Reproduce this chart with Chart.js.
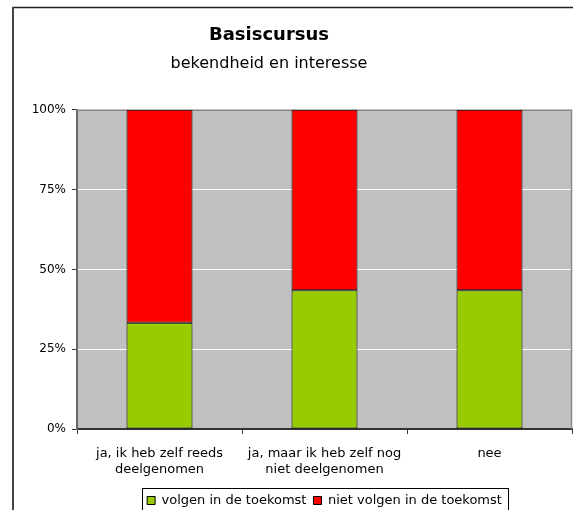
<!DOCTYPE html>
<html><head><meta charset="utf-8">
<script src="https://cdn.jsdelivr.net/npm/chart.js@4/dist/chart.umd.min.js"></script>
<style>html,body{margin:0;padding:0;background:#fff;overflow:hidden}canvas{display:block}</style>
</head><body>
<canvas id="c" width="573" height="517" style="width:573px;height:517px"></canvas>
<script>
const titleText = 'Basiscursus';
const subtitleText = 'bekendheid en interesse';
const categories = [['ja, ik heb zelf reeds', 'deelgenomen'], ['ja, maar ik heb zelf nog', 'niet deelgenomen'], ['nee']];
const seriesNames = ['volgen in de toekomst', 'niet volgen in de toekomst'];
const volgen = [33.3, 43.5, 43.5];
const nietVolgen = [66.7, 56.5, 56.5];
const yTickStep = 25;
const yMax = 100;

const FONT = 'DejaVu Sans';
Chart.defaults.font.family = FONT;
Chart.defaults.color = '#000';

const decor = {
  id: 'decor',
  beforeDraw(chart) {
    const {ctx, chartArea: a} = chart;
    ctx.save();
    ctx.fillStyle = '#fff';
    ctx.fillRect(0, 0, chart.width, chart.height);
    ctx.fillStyle = '#C0C0C0';
    ctx.fillRect(a.left, a.top, a.right - a.left, a.bottom - a.top);
    ctx.strokeStyle = '#222';
    ctx.lineWidth = 1.5;
    ctx.beginPath(); ctx.moveTo(12, 7.5); ctx.lineTo(chart.width, 7.5); ctx.stroke();
    ctx.strokeStyle = '#444';
    ctx.lineWidth = 2;
    ctx.beginPath(); ctx.moveTo(13, 7); ctx.lineTo(13, chart.height); ctx.stroke();
    ctx.restore();
  },
  beforeDatasetsDraw(chart) {
    const {ctx, chartArea: a} = chart;
    ctx.save();
    ctx.strokeStyle = '#8a8a8a';
    ctx.lineWidth = 1.5;
    ctx.beginPath();
    ctx.moveTo(a.left, a.top + 0.5); ctx.lineTo(a.right - 0.5, a.top + 0.5); ctx.lineTo(a.right - 0.5, a.bottom);
    ctx.stroke();
    ctx.restore();
  },
  afterDraw(chart) {
    const lg = chart.legend;
    if (!lg || !lg.legendHitBoxes || !lg.legendHitBoxes.length) return;
    const hb = lg.legendHitBoxes;
    const l = hb[0].left - 5;
    const last = hb[hb.length - 1];
    const r = last.left + last.width + 6;
    const cy = hb[0].top + hb[0].height / 2;
    const ctx = chart.ctx;
    ctx.save();
    ctx.strokeStyle = '#000';
    ctx.lineWidth = 1;
    ctx.strokeRect(Math.round(l) + 0.5, Math.round(cy - 13) + 0.5, Math.round(r - l), 26);
    ctx.restore();
  }
};

function draw() {
  new Chart(document.getElementById('c'), {
    type: 'bar',
    data: {
      labels: categories,
      datasets: [
        {label: seriesNames[0], data: volgen, backgroundColor: '#99CC00', borderColor: '#000', borderWidth: 1, borderSkipped: false},
        {label: seriesNames[1], data: nietVolgen, backgroundColor: '#FF0000', borderColor: '#000', borderWidth: 1, borderSkipped: false}
      ]
    },
    options: {
      responsive: false,
      animation: false,
      events: [],
      layout: {padding: {left: -34, right: 1, top: 0, bottom: 0}},
      datasets: {bar: {barPercentage: 0.4, categoryPercentage: 1}},
      plugins: {
        title: {display: true, text: titleText, font: {family: FONT, size: 18, weight: 'bold'}, color: '#000', padding: {top: 25, bottom: 4}},
        subtitle: {display: true, text: subtitleText, font: {family: FONT, size: 16}, color: '#000', padding: {top: 4, bottom: 36}},
        legend: {
          position: 'bottom', fullSize: false,
          labels: {boxWidth: 8, boxHeight: 8, padding: 7, font: {family: FONT, size: 13}, color: '#000'}
        },
        tooltip: {enabled: false}
      },
      scales: {
        x: {
          stacked: true,
          grid: {display: true, drawOnChartArea: false, drawTicks: true, tickLength: 5, tickColor: '#333', offset: true},
          border: {display: true, color: '#333', width: 2},
          ticks: {font: {family: FONT, size: 13, lineHeight: 1.23}, color: '#000', padding: 12, maxRotation: 0, autoSkip: false},
          afterFit(s) { s.height = 58; }
        },
        y: {
          stacked: true, min: 0, max: yMax,
          grid: {
            color: (c) => (c.tick && c.tick.value > 0 && c.tick.value < yMax) ? '#ffffff' : 'rgba(0,0,0,0)',
            lineWidth: 1, tickLength: 5, tickColor: '#333', drawTicks: true
          },
          border: {display: true, color: '#666', width: 2},
          ticks: {stepSize: yTickStep, font: {family: FONT, size: 12}, color: '#000', padding: 6, callback: (v) => v + '%'},
          afterFit(s) { s.width = 111; }
        }
      }
    },
    plugins: [decor]
  });
}

if (document.fonts && document.fonts.load) {
  Promise.all([
    document.fonts.load('12px "' + FONT + '"'),
    document.fonts.load('bold 18px "' + FONT + '"')
  ]).then(draw, draw);
} else {
  draw();
}
</script>
</body></html>
